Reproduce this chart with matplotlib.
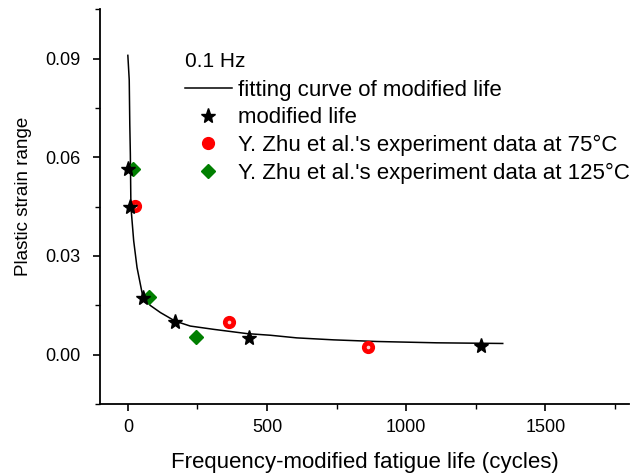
import matplotlib
matplotlib.use("Agg")
import matplotlib.pyplot as plt
from matplotlib.ticker import MultipleLocator

plt.rcParams['font.family'] = ['Liberation Sans', 'DejaVu Sans']

# fitting curve
fit_x = [0, 5, 7, 9, 11, 21, 33, 45, 53, 80, 117, 170, 224, 308, 428, 512, 607, 739, 895, 1110, 1347]
fit_y = [0.091, 0.0835, 0.070, 0.061, 0.045, 0.0346, 0.0265, 0.0214, 0.018, 0.0150, 0.0128,
         0.0102, 0.0087, 0.0077, 0.0064, 0.0059, 0.0051, 0.0045, 0.0040, 0.0036, 0.0034]

mod_x = [2, 6, 53, 168, 437, 1269]
mod_y = [0.0565, 0.0450, 0.0173, 0.0099, 0.0051, 0.0026]

t75_x = [27, 364, 862]
t75_y = [0.0451, 0.0099, 0.0024]

t125_x = [18, 77, 246]
t125_y = [0.0565, 0.0175, 0.0053]

xticks = [0, 500, 1000, 1500]
yticks = [0.00, 0.03, 0.06, 0.09]
ytick_labels = ['0.00', '0.03', '0.06', '0.09']

W, H = 644, 475
fig = plt.figure(figsize=(6.44, 4.75), dpi=100)
ax = fig.add_axes([0.1553, 0.1495, 0.9764 - 0.1553, 0.9804 - 0.1495])

ax.plot(fit_x, fit_y, color='black', lw=1.1, label='fitting curve of modified life', zorder=2)
ax.plot(mod_x, mod_y, linestyle='none', marker='*', ms=11, color='black',
        label='modified life', zorder=4)
ax.plot(t75_x, t75_y, linestyle='none', marker='o', ms=8.5, color='#ff0000', mec='#ff0000',
        label="Y. Zhu et al.'s experiment data at 75°C", zorder=3)
ax.plot(t75_x, t75_y, linestyle='none', marker='o', ms=1.6, color='#ffd0d0', mec='#ffd0d0', zorder=3.5)
ax.plot(t125_x, t125_y, linestyle='none', marker='D', ms=7.5, color='#007f00', mec='#007f00',
        label="Y. Zhu et al.'s experiment data at 125°C", zorder=3)

ax.set_xlim(-100, 1800)
ax.set_ylim(-0.015, 0.105)
ax.set_xticks(xticks)
ax.set_xticklabels([str(t) for t in xticks])
ax.set_yticks(yticks)
ax.set_yticklabels(ytick_labels)
ax.xaxis.set_minor_locator(MultipleLocator(250))
ax.yaxis.set_minor_locator(MultipleLocator(0.015))

for s in ['top', 'right']:
    ax.spines[s].set_visible(False)
for s in ['left', 'bottom']:
    ax.spines[s].set_linewidth(1.3)

ax.tick_params(axis='both', which='major', direction='out', length=5, width=1.2,
               labelsize=13, colors='black')
ax.tick_params(axis='both', which='minor', direction='out', length=3.5, width=1.0)
ax.tick_params(axis='y', which='major', pad=9)
ax.tick_params(axis='x', which='major', pad=6)

ax.set_xlabel('Frequency-modified fatigue life (cycles)', fontsize=16, labelpad=11)
ax.set_ylabel('Plastic strain range', fontsize=13.5)
ax.yaxis.set_label_coords(-0.128, 0.527)

fig.text(185 / W, 1 - 61.7 / H, '0.1 Hz', fontsize=15, ha='left', va='center')

leg = ax.legend(loc='upper left', bbox_to_anchor=(185 / W, 1 - 80 / H),
                bbox_transform=fig.transFigure, frameon=False, fontsize=16,
                handlelength=2.1, handletextpad=0.3, labelspacing=0.29,
                borderpad=0, borderaxespad=0, numpoints=1)

fig.savefig('out.png', dpi=100)
